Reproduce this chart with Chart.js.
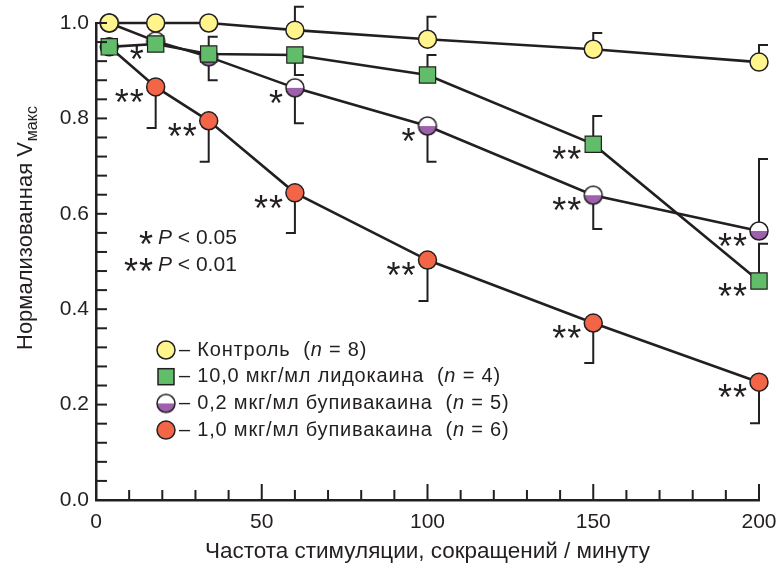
<!DOCTYPE html>
<html>
<head>
<meta charset="utf-8">
<script src="https://cdn.jsdelivr.net/npm/chart.js@4.4.1/dist/chart.umd.min.js"></script>
<style>
  html, body { margin: 0; padding: 0; background: #fff; }
  canvas { display: block; }
</style>
</head>
<body>
<canvas id="chart" width="777" height="566"></canvas>
<script>
// stimulation frequency, beats/min
const freq = [4, 18, 34, 60, 100, 150, 200];

// normalized Vmax for each group
const control = [1.0, 1.0, 1.0, 0.985, 0.966, 0.945, 0.918];
const lido = [0.95, 0.956, 0.935, 0.933, 0.891, 0.746, 0.459];
const bupi02 = [1.0, 0.962, 0.929, 0.864, 0.784, 0.639, 0.564];
const bupi10 = [0.95, 0.866, 0.795, 0.644, 0.503, 0.371, 0.247];

// end of the error bar (null = none drawn)
const controlErr = [null, null, null, 1.034, 1.013, 0.979, 0.954];
const lidoErr = [null, null, 0.971, 0.891, 0.933, 0.805, 0.537];
const bupi02Err = [null, null, 0.88, 0.79, 0.709, 0.568, 0.715];
const bupi10Err = [null, 0.78, 0.709, 0.56, 0.417, 0.287, 0.161];

// significance marks
const controlSig = ["", "", "", "", "", "", ""];
const lidoSig = ["", "*", "", "", "", "**", "**"];
const bupi02Sig = ["", "", "", "*", "*", "**", "**"];
const bupi10Sig = ["", "**", "**", "**", "**", "**", "**"];

// legend text
const legendNames = ["Контроль", "10,0 мкг/мл лидокаина", "0,2 мкг/мл бупивакаина", "1,0 мкг/мл бупивакаина"];
const legendN = [8, 4, 5, 6];
const pMarks = ["*", "**"];
const pTexts = ["< 0.05", "< 0.01"];

const dark = "#231f20";
const yellow = "#fff58c";
const green = "#62bd6b";
const purple = "#9d62ab";
const orange = "#f26546";
const FONT = "'Liberation Sans', Arial, sans-serif";

function halfCircle(r) {
  const c = document.createElement("canvas");
  const s = Math.ceil(2 * r + 4);
  c.width = s;
  c.height = s;
  const g = c.getContext("2d");
  const m = s / 2;
  g.beginPath();
  g.arc(m, m, r, 0, 2 * Math.PI);
  g.fillStyle = "#fff";
  g.fill();
  g.save();
  g.beginPath();
  g.arc(m, m, r, 0, 2 * Math.PI);
  g.clip();
  g.fillStyle = purple;
  g.fillRect(0, m, s, s);
  g.restore();
  g.beginPath();
  g.arc(m, m, r, 0, 2 * Math.PI);
  g.lineWidth = 1.5;
  g.strokeStyle = dark;
  g.stroke();
  return c;
}
const halfImg = halfCircle(9);

function pts(ys) {
  return freq.map((x, i) => ({ x: x, y: ys[i] }));
}

function drawStars(g, text, rightX, centerY) {
  g.save();
  g.font = "36px " + FONT;
  g.fillStyle = dark;
  g.textAlign = "right";
  g.textBaseline = "alphabetic";
  g.letterSpacing = "1px";
  const m = g.measureText(text);
  const mid = (m.actualBoundingBoxAscent - m.actualBoundingBoxDescent) / 2;
  g.fillText(text, rightX, centerY + mid);
  g.restore();
}

function drawMarker(g, kind, x, y) {
  g.save();
  g.lineWidth = 1.5;
  g.strokeStyle = dark;
  if (kind === "circle-y" || kind === "circle-o") {
    g.beginPath();
    g.arc(x, y, 9, 0, 2 * Math.PI);
    g.fillStyle = kind === "circle-y" ? yellow : orange;
    g.fill();
    g.stroke();
  } else if (kind === "rect") {
    g.fillStyle = green;
    g.fillRect(x - 8, y - 8, 16, 16);
    g.strokeRect(x - 8, y - 8, 16, 16);
  } else {
    g.drawImage(halfImg, x - halfImg.width / 2, y - halfImg.height / 2);
  }
  g.restore();
}

const extras = {
  id: "extras",
  beforeDatasetsDraw(chart) {
    const g = chart.ctx;
    const xs = chart.scales.x, ys = chart.scales.y;
    g.save();
    g.strokeStyle = dark;
    g.lineWidth = 2;
    chart.data.datasets.forEach((ds) => {
      ds.err.forEach((e, i) => {
        if (e === null) return;
        const px = xs.getPixelForValue(freq[i]);
        const py = ys.getPixelForValue(ds.data[i].y);
        const pe = ys.getPixelForValue(e);
        g.beginPath();
        g.moveTo(px, py);
        g.lineTo(px, pe);
        g.lineTo(px + ds.capDir * 9, pe);
        g.stroke();
      });
    });
    g.restore();
  },
  afterDraw(chart) {
    const g = chart.ctx;
    const xs = chart.scales.x, ys = chart.scales.y;
    const area = chart.chartArea;

    // inward ticks
    g.save();
    g.strokeStyle = dark;
    g.lineWidth = 2;
    for (let i = 0; i <= 25; i++) {
      const py = ys.getPixelForValue(i * 0.04);
      g.beginPath();
      g.moveTo(area.left, py);
      g.lineTo(area.left + 11, py);
      g.stroke();
    }
    for (let i = 0; i <= 20; i++) {
      const px = xs.getPixelForValue(i * 10);
      const len = i % 5 === 0 ? 16 : 10;
      g.beginPath();
      g.moveTo(px, area.bottom);
      g.lineTo(px, area.bottom - len);
      g.stroke();
    }
    g.restore();

    // significance stars
    chart.data.datasets.forEach((ds) => {
      ds.sig.forEach((s, i) => {
        if (!s) return;
        const px = xs.getPixelForValue(freq[i]);
        const py = ys.getPixelForValue(ds.data[i].y);
        drawStars(g, s, px - 11, py + 9);
      });
    });

    // P legend
    g.save();
    g.fillStyle = dark;
    pMarks.forEach((s, i) => {
      const cy = 238 + i * 27;
      drawStars(g, s, 154, cy);
      g.textBaseline = "middle";
      g.textAlign = "left";
      g.font = "italic 21px " + FONT;
      g.fillText("P", 158, cy);
      const w = g.measureText("P ").width;
      g.font = "21px " + FONT;
      g.fillText(pTexts[i], 158 + w, cy);
    });
    g.restore();

    // series legend
    const kinds = ["circle-y", "rect", "half", "circle-o"];
    g.save();
    g.fillStyle = dark;
    g.textBaseline = "middle";
    g.textAlign = "left";
    g.letterSpacing = "0.8px";
    legendNames.forEach((name, i) => {
      const cy = 350 + i * 26.7;
      drawMarker(g, kinds[i], 166, cy);
      let x = 179;
      g.font = "20px " + FONT;
      const head = "– " + name + "  (";
      g.fillText(head, x, cy);
      x += g.measureText(head).width;
      g.font = "italic 20px " + FONT;
      g.fillText("n", x, cy);
      x += g.measureText("n").width;
      g.font = "20px " + FONT;
      g.fillText(" = " + legendN[i] + ")", x, cy);
    });
    g.restore();

    // axis titles
    g.save();
    g.fillStyle = dark;
    g.textBaseline = "alphabetic";
    g.textAlign = "center";
    g.font = "22px " + FONT;
    const xt = "Частота стимуляции, сокращений / минуту";
    const cx = (area.left + area.right) / 2;
    const tw = g.measureText(xt).width;
    g.translate(cx, 558);
    g.scale(445 / tw, 1);
    g.fillText(xt, 0, 0);
    g.restore();

    g.save();
    g.fillStyle = dark;
    g.translate(32, 350);
    g.rotate(-Math.PI / 2);
    g.textAlign = "left";
    g.textBaseline = "alphabetic";
    g.font = "22px " + FONT;
    const yt = "Нормализованная V";
    g.fillText(yt, 0, 0);
    const yw = g.measureText(yt).width;
    g.font = "16px " + FONT;
    g.fillText("макс", yw + 1, 5);
    g.restore();
  }
};

const tickFont = { family: FONT, size: 21 };

new Chart(document.getElementById("chart"), {
  type: "line",
  data: {
    datasets: [
      {
        label: legendNames[0], data: pts(control), err: controlErr, sig: controlSig, capDir: 1,
        borderColor: dark, borderWidth: 2.6, pointStyle: "circle", pointRadius: 9,
        pointBackgroundColor: yellow, pointBorderColor: dark, pointBorderWidth: 1.5, clip: false
      },
      {
        label: legendNames[1], data: pts(lido), err: lidoErr, sig: lidoSig, capDir: 1,
        borderColor: dark, borderWidth: 2.6, pointStyle: "rect", pointRadius: 11.5,
        pointBackgroundColor: green, pointBorderColor: dark, pointBorderWidth: 1.2, clip: false
      },
      {
        label: legendNames[2], data: pts(bupi02), err: bupi02Err, sig: bupi02Sig, capDir: 1,
        borderColor: dark, borderWidth: 2.6, pointStyle: halfImg, pointRadius: 9,
        clip: false
      },
      {
        label: legendNames[3], data: pts(bupi10), err: bupi10Err, sig: bupi10Sig, capDir: -1,
        borderColor: dark, borderWidth: 2.6, pointStyle: "circle", pointRadius: 9,
        pointBackgroundColor: orange, pointBorderColor: dark, pointBorderWidth: 1.5, clip: false
      }
    ]
  },
  options: {
    responsive: false,
    animation: false,
    layout: { padding: { top: 23, right: 18, left: 0, bottom: 0 } },
    plugins: { legend: { display: false }, tooltip: { enabled: false } },
    scales: {
      x: {
        type: "linear", min: 0, max: 200,
        ticks: { stepSize: 50, font: tickFont, color: dark, padding: 10, maxRotation: 0 },
        grid: { display: false, drawTicks: false },
        border: { color: dark, width: 2.5 },
        afterFit(s) { s.height = 66; s.paddingLeft = 0; s.paddingRight = 0; }
      },
      y: {
        min: 0, max: 1,
        ticks: { stepSize: 0.2, font: tickFont, color: dark, padding: 7, callback: (v) => v.toFixed(1) },
        grid: { display: false, drawTicks: false },
        border: { color: dark, width: 2.5 },
        afterFit(s) { s.width = 96; s.paddingTop = 0; s.paddingBottom = 0; }
      }
    }
  },
  plugins: [extras]
});
</script>
</body>
</html>
